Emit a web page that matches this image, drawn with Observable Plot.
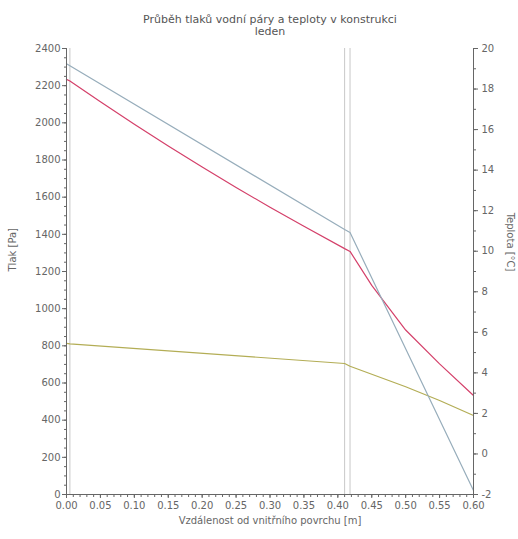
<!DOCTYPE html>
<html><head><meta charset="utf-8">
<script src="https://cdn.jsdelivr.net/npm/d3@7"></script>
<script src="https://cdn.jsdelivr.net/npm/@observablehq/plot@0.6"></script>
<style>body{margin:0;background:#fff;} svg{display:block;}</style>
</head><body>
<div id="chart"></div>
<script>
const title = "Průběh tlaků vodní páry a teploty v konstrukci";
const subtitle = "leden";
const xLabel = "Vzdálenost od vnitřního povrchu [m]";
const yLabel = "Tlak [Pa]";
const y2Label = "Teplota [°C]";
const boundaries = [0, 0.005, 0.41, 0.418, 0.6];
const xTicks = [0,0.05,0.1,0.15,0.2,0.25,0.3,0.35,0.4,0.45,0.5,0.55,0.6];
const pTicks = [0,200,400,600,800,1000,1200,1400,1600,1800,2000,2200,2400];
const tTicks = [-2,0,2,4,6,8,10,12,14,16,18,20];
// temperature [°C]
const tempX = [0, 0.005, 0.41, 0.418, 0.6];
const tempV = [19.25, 19.15, 11.07, 10.92, -1.8];
// saturated vapour pressure [Pa]
const satX = [0, 0.005, 0.05, 0.1, 0.15, 0.2, 0.25, 0.3, 0.35, 0.41, 0.418, 0.45, 0.5, 0.55, 0.6];
const satV = [2234, 2225, 2113, 1992, 1875, 1762, 1652, 1546, 1443, 1323, 1308, 1125, 885, 703, 533];
// partial vapour pressure [Pa]
const parX = [0, 0.005, 0.41, 0.418, 0.5, 0.55, 0.6];
const parV = [813, 811, 705, 690, 580, 506, 425];

const tMin = -2, tMax = 20, pMax = 2400;
const toP = t => (t - tMin) / (tMax - tMin) * pMax;
const fromP = p => Math.round(p / pMax * (tMax - tMin) + tMin);

const temp = tempX.map((x,i)=>({x, y: toP(tempV[i])}));
const sat = satX.map((x,i)=>({x, y: satV[i]}));
const par = parX.map((x,i)=>({x, y: parV[i]}));

const axisColor = "#666";
const txt = "#666";
const chart = Plot.plot({
  width: 518, height: 539,
  marginLeft: 66, marginRight: 45, marginTop: 48, marginBottom: 45,
  style: {fontFamily: "DejaVu Sans", fontSize: "10px", color: txt, background: "#fff"},
  x: {domain: [0, 0.6]},
  y: {domain: [0, 2400]},
  marks: [
    Plot.ruleX(boundaries, {stroke: "#c8c8c8", strokeWidth: 1}),
    Plot.line(par, {x: "x", y: "y", stroke: "#b3ad55", strokeWidth: 1.2}),
    Plot.line(sat, {x: "x", y: "y", stroke: "#d4406a", strokeWidth: 1.2}),
    Plot.line(temp, {x: "x", y: "y", stroke: "#97adbb", strokeWidth: 1.2}),
    // left axis
    Plot.axisY(d3.range(0, 2401, 50), {anchor: "left", tickSize: 2, tickFormat: () => "", stroke: axisColor, label: null}),
    Plot.axisY(pTicks, {anchor: "left", tickSize: 4, tickPadding: 2, tickFormat: d => String(d), stroke: axisColor, fill: txt, label: null}),
    // right axis
    Plot.axisY(d3.range(-2, 20.01, 1).map(toP), {anchor: "right", tickSize: 2, tickFormat: () => "", stroke: axisColor, label: null}),
    Plot.axisY(tTicks.map(toP), {anchor: "right", tickSize: 4, tickPadding: 4, tickFormat: d => String(fromP(d)), stroke: axisColor, fill: txt, label: null}),
    // bottom axis
    Plot.axisX(d3.range(0, 0.6001, 0.01), {tickSize: 3, tickFormat: () => "", stroke: axisColor, label: null}),
    Plot.axisX(xTicks, {tickSize: 4, tickPadding: 3, tickFormat: d3.format(".2f"), stroke: axisColor, fill: txt, label: null}),
    Plot.ruleX([0, 0.6], {stroke: axisColor, strokeWidth: 1}),
    Plot.ruleY([0], {stroke: axisColor, strokeWidth: 1}),
    // texts
    Plot.text([title], {frameAnchor: "top", dy: -33, text: d => d, fontSize: 11, fill: "#555"}),
    Plot.text([subtitle], {frameAnchor: "top", dy: -21, text: d => d, fontSize: 11, fill: "#555"}),
    Plot.text([xLabel], {frameAnchor: "bottom", dy: 29, text: d => d, fontSize: 10, fill: txt}),
    Plot.text([yLabel], {frameAnchor: "left", dx: -54, text: d => d, rotate: -90, fontSize: 10, fill: txt}),
    Plot.text([y2Label], {frameAnchor: "right", dx: 37, text: d => d, rotate: 90, fontSize: 10, fill: txt})
  ]
});
document.getElementById("chart").appendChild(chart);
</script>
</body></html>
